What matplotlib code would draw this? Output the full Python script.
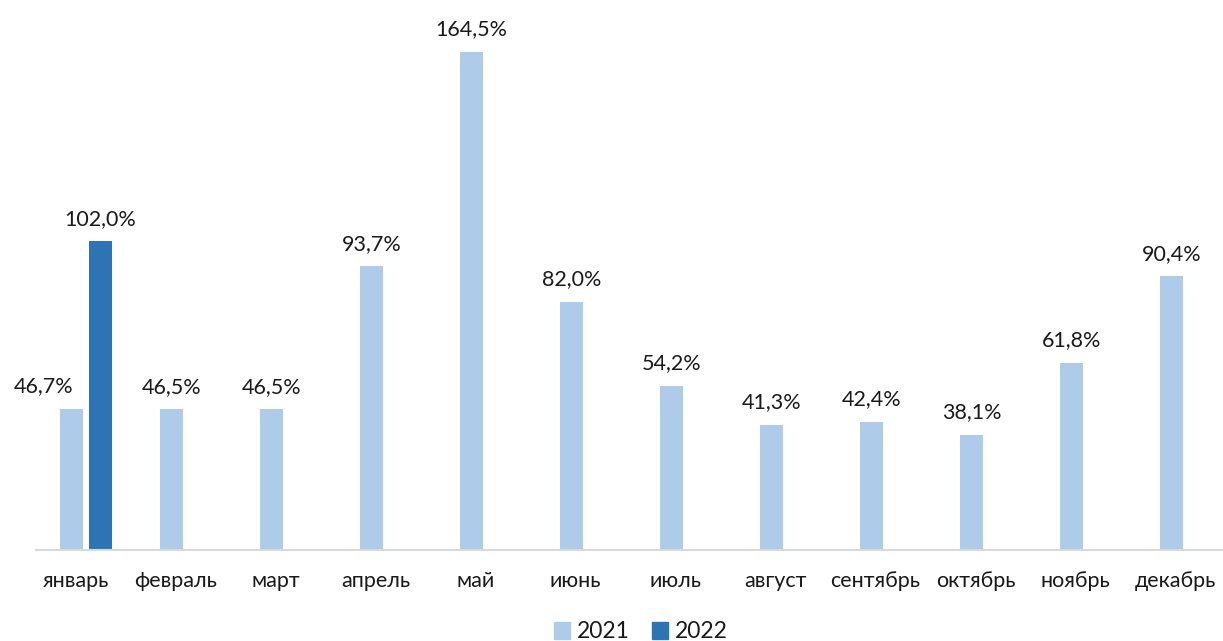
import matplotlib
matplotlib.use("Agg")
import matplotlib.pyplot as plt
from matplotlib.patches import Patch
import numpy as np

plt.rcParams['font.family'] = ['Lato', 'DejaVu Sans']

months = ["январь", "февраль", "март", "апрель", "май", "июнь", "июль",
          "август", "сентябрь", "октябрь", "ноябрь", "декабрь"]
values_2021 = [46.7, 46.5, 46.5, 93.7, 164.5, 82.0, 54.2, 41.3, 42.4, 38.1, 61.8, 90.4]
values_2022 = [102.0]
series_names = ["2021", "2022"]

c2021 = "#AFCBEA"
c2022 = "#2E74B5"
tc = "#1a1a1a"

fig = plt.figure(figsize=(12.23, 6.41), dpi=100)
ax = fig.add_axes([36/1223, 91/641, 1187/1223, 545/641])

x = np.arange(len(months))
w = 0.225
off = 0.145

ax.bar(x - off, values_2021, width=w, color=c2021)
x22 = x[:len(values_2022)]
ax.bar(x22 + off, values_2022, width=w, color=c2022)

def fmt(v):
    return f"{v:.1f}".replace(".", ",") + "%"

for i, (xi, v) in enumerate(zip(x - off, values_2021)):
    dx = -20 if i < len(values_2022) else 0
    ax.annotate(fmt(v), (xi, v), xytext=(dx, 9), textcoords="offset points",
                ha="center", va="bottom", fontsize=15.5, color=tc)
for xi, v in zip(x22 + off, values_2022):
    ax.annotate(fmt(v), (xi, v), xytext=(0, 9), textcoords="offset points",
                ha="center", va="bottom", fontsize=15.5, color=tc)

ax.set_xlim(-0.5, 11.37)
ax.set_ylim(0, 180)
ax.set_xticks(x - 0.105)
ax.set_xticklabels(months, fontsize=15.5, color=tc)
ax.tick_params(axis="x", length=0, pad=15)
ax.set_yticks([])
for s in ["top", "right", "left"]:
    ax.spines[s].set_visible(False)
ax.spines["bottom"].set_color("#D9D9D9")
ax.spines["bottom"].set_linewidth(1.5)

handles = [Patch(color=c2021, label=series_names[0]), Patch(color=c2022, label=series_names[1])]
fig.legend(handles=handles, loc="center", bbox_to_anchor=(0.524, 9/641), ncol=2,
           frameon=False, prop={"size": 16.5}, handlelength=0.7, handleheight=0.7,
           handletextpad=0.3, columnspacing=1.0, labelcolor=tc)

fig.savefig("out.png", dpi=100)
